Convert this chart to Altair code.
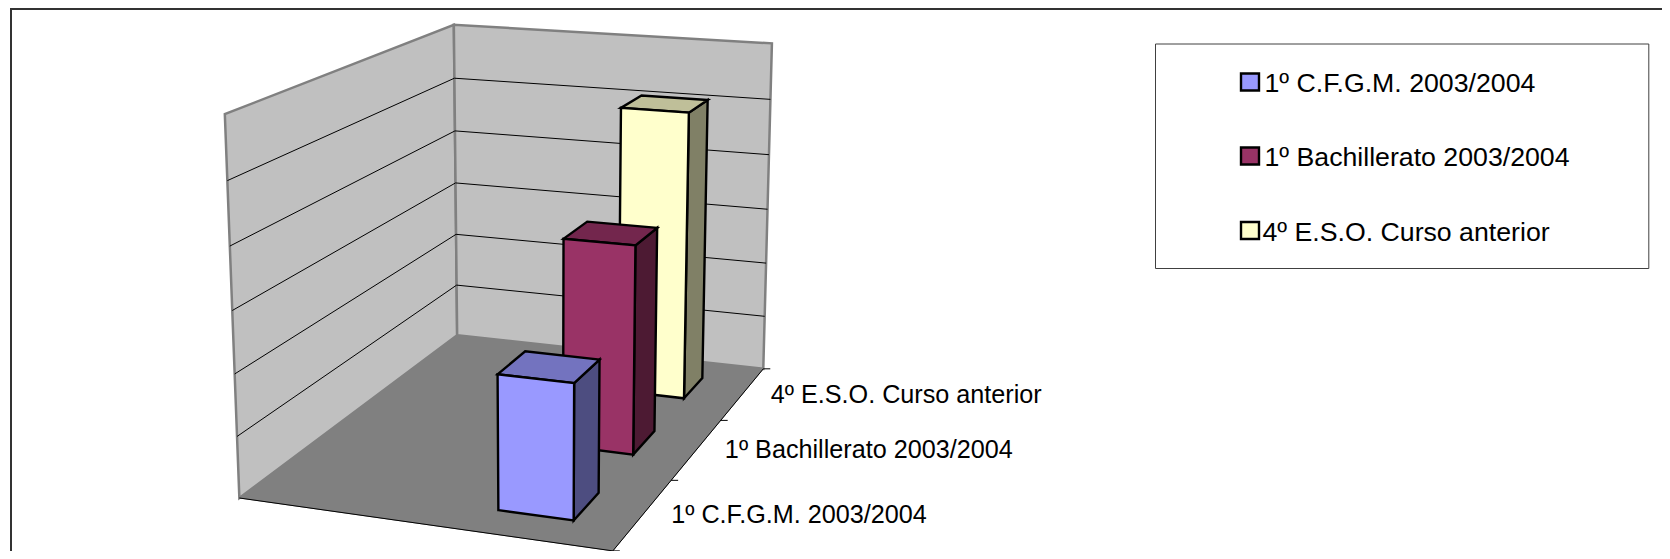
import numpy as np
import pandas as pd
import altair as alt

# ---- chart data ----
categories = ["1º C.F.G.M. 2003/2004", "1º Bachillerato 2003/2004", "4º E.S.O. Curso anterior"]
values = [21.6, 35.1, 50.9]
axis_max = 60
axis_step = 10
face_colors = ["#9999FF", "#993366", "#FFFFCC"]
top_colors = ["#7373BF", "#73264D", "#BFBF99"]
side_colors = ["#4D4D80", "#4D1A33", "#808066"]

# ---- layout ----
W, H = 1654, 543
ORIGIN = 8
FONT = "Liberation Sans"

# camera calibration: cube corners (width, depth, height) -> page pixel
calib = [((0, 0, 0), (239.4, 498.3)), ((1, 0, 0), (612.7, 550.7)), ((1, 1, 0), (763.3, 369)),
         ((0, 1, 0), (457.2, 335)), ((0, 0, 1), (224.9, 114)), ((0, 1, 1), (453.7, 25)),
         ((1, 1, 1), (772, 43.3))]
A, r = [], []
for (X, Y, Z), (u, v) in calib:
    A.append([X, Y, Z, 1, 0, 0, 0, 0, -u * X, -u * Y, -u * Z]); r.append(u)
    A.append([0, 0, 0, 0, X, Y, Z, 1, -v * X, -v * Y, -v * Z]); r.append(v)
M = np.append(np.linalg.lstsq(np.array(A), np.array(r), rcond=None)[0], 1).reshape(3, 4)


def pr(x, y, z):
    p = M @ np.array([x, y, z, 1.0])
    return (float(p[0] / p[2]), float(p[1] / p[2]))


xs = alt.Scale(domain=[ORIGIN, ORIGIN + W], range=[0, W], nice=False, zero=False)
ys = alt.Scale(domain=[ORIGIN, ORIGIN + H], range=[0, H], nice=False, zero=False)
X_ = alt.X("px:Q", scale=xs, axis=None)
Y_ = alt.Y("py:Q", scale=ys, axis=None)


def poly(points, fill, stroke, sw):
    df = pd.DataFrame({"px": [p[0] for p in points], "py": [p[1] for p in points],
                       "seq": list(range(len(points)))})
    return alt.Chart(df).mark_line(interpolate="linear-closed", fill=fill, stroke=stroke,
                                   strokeWidth=sw, strokeJoin="miter").encode(
        x=X_, y=Y_, order="seq:Q")


def segs(rows, color, sw):
    df = pd.DataFrame(rows, columns=["px", "py", "px2", "py2"])
    return alt.Chart(df).mark_rule(color=color, strokeWidth=sw).encode(
        x=X_, y=Y_, x2="px2:Q", y2="py2:Q")


def texts(rows, size):
    df = pd.DataFrame(rows, columns=["px", "py", "label"])
    return alt.Chart(df).mark_text(align="left", baseline="middle", font=FONT, fontSize=size,
                                   color="#000000").encode(x=X_, y=Y_, text="label:N")


layers = []
# outer frame (the page only leaves room for it up to the plot's edge)
layers.append(segs([(11, 8, 11, ORIGIN + H), (10, 9, ORIGIN + W, 9)], "#333333", 2))

# walls and floor
wall_stroke = "#808080"
layers.append(poly([pr(0, 0, 0), pr(0, 1, 0), pr(0, 1, 1), pr(0, 0, 1)], "#C0C0C0", wall_stroke, 2.5))
layers.append(poly([pr(0, 1, 0), pr(1, 1, 0), pr(1, 1, 1), pr(0, 1, 1)], "#C0C0C0", wall_stroke, 2.5))
layers.append(poly([pr(0, 0, 0), pr(1, 0, 0), pr(1, 1, 0), pr(0, 1, 0)], "#808080", "#808080", 1))

# gridlines
grid = []
for lv in range(axis_step, axis_max, axis_step):
    h = lv / axis_max
    grid.append(pr(0, 0, h) + pr(0, 1, h))
    grid.append(pr(0, 1, h) + pr(1, 1, h))
layers.append(segs(grid, "#000000", 1))

# floor edges and category ticks
n = len(categories)
edge = [pr(0, 0, 0) + pr(1, 0, 0), pr(1, 0, 0) + pr(1, 1, 0)]
for i in range(n + 1):
    p = pr(1, i / n, 0)
    edge.append(p + (p[0] + 7, p[1]))
layers.append(segs(edge, "#000000", 1))

# bars, back to front
BAR_W0, BAR_W1 = 0.65, 0.85
GAP = 0.1
DEPTH = 1 / n - 2 * GAP
for i in reversed(range(n)):
    d0 = i / n + GAP
    d1 = d0 + DEPTH
    h = values[i] / axis_max
    w0, w1 = BAR_W0, BAR_W1
    layers.append(poly([pr(w1, d0, 0), pr(w1, d1, 0), pr(w1, d1, h), pr(w1, d0, h)], side_colors[i], "#000000", 2.4))
    layers.append(poly([pr(w0, d0, h), pr(w1, d0, h), pr(w1, d1, h), pr(w0, d1, h)], top_colors[i], "#000000", 2.4))
    layers.append(poly([pr(w0, d0, 0), pr(w1, d0, 0), pr(w1, d0, h), pr(w0, d0, h)], face_colors[i], "#000000", 2.4))

# category labels
lab = []
for i, c in enumerate(categories):
    p = pr(1, (i + 0.5) / n, 0)
    lab.append((p[0] + 28, p[1] + 1, c))
layers.append(texts(lab, 25.2))

# legend
LEG = (1155.5, 44, 1648.8, 268.5)
layers.append(poly([(LEG[0], LEG[1]), (LEG[2], LEG[1]), (LEG[2], LEG[3]), (LEG[0], LEG[3])], "#FFFFFF", "#404040", 1))
leg_cy = [82, 156, 230.5]
for cy, col in zip(leg_cy, face_colors):
    layers.append(poly([(1241, cy - 8.5), (1259, cy - 8.5), (1259, cy + 8.5), (1241, cy + 8.5)], col, "#000000", 2.4))
leg_tx = [1264.5, 1264.5, 1262.5]
layers.append(texts([(tx, cy + 2, c) for tx, cy, c in zip(leg_tx, leg_cy, categories)], 26.7))

chart = alt.layer(*layers).properties(
    width=W, height=H, padding=0, autosize=alt.AutoSizeParams(type="none"),
    background="#FFFFFF",
).configure_view(stroke=None)

chart.save("out.html", embed_options={"renderer": "svg", "actions": False})
